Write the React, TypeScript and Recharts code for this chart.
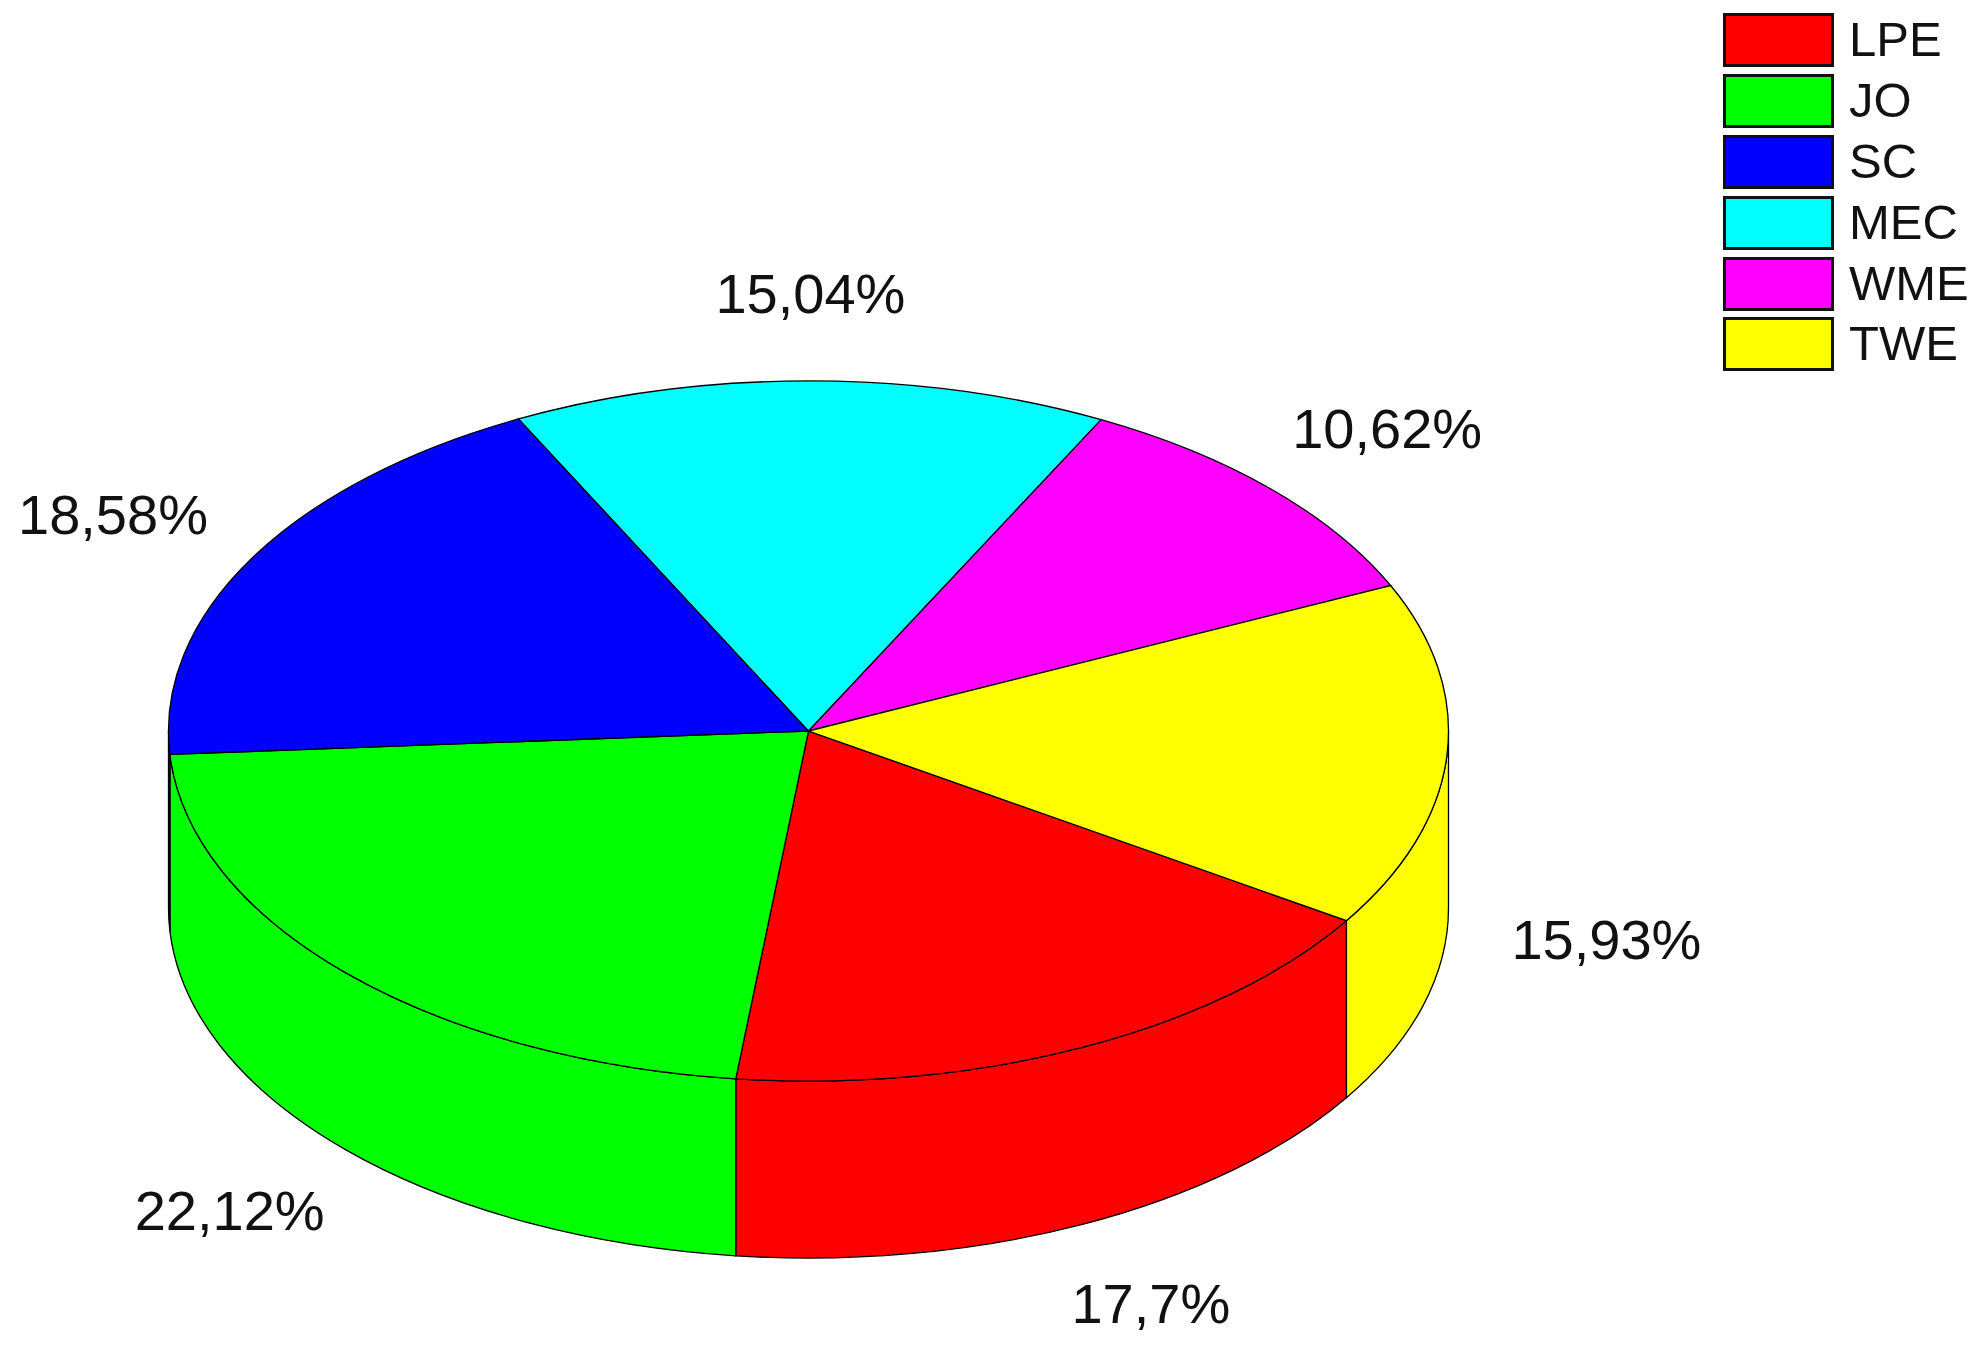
import React from "react";
import { PieChart, Pie, Cell, Legend } from "recharts";

const categories = ["LPE", "JO", "SC", "MEC", "WME", "TWE"];
const shares = [17.7, 22.12, 18.58, 15.04, 10.62, 15.93];
const shareLabels = ["17,7%", "22,12%", "18,58%", "15,04%", "10,62%", "15,93%"];
const colors = ["#ff0000", "#00ff00", "#0000ff", "#00ffff", "#ff00ff", "#ffff00"];

const tableData = categories.map((name, i) => ({ name, value: shares[i], text: shareLabels[i] }));

const SQUASH = 0.547;
const DEPTH = 177;
const LABEL_FACTOR_X = 1.25;
const LABEL_FACTOR_Y = 1.25;
const RAD = Math.PI / 180;
const FONT = '"Liberation Sans", Arial, sans-serif';

const pt = (cx: number, cy: number, rx: number, ry: number, a: number) =>
  [cx + rx * Math.cos(a * RAD), cy - ry * Math.sin(a * RAD)] as const;

function Slice3D(props: any) {
  const { cx, cy, outerRadius, startAngle, endAngle, fill } = props;
  const rx = outerRadius;
  const ry = outerRadius * SQUASH;
  const a0 = Math.max(startAngle, endAngle);
  const a1 = Math.min(startAngle, endAngle);
  const [sx, sy] = pt(cx, cy, rx, ry, a0);
  const [ex, ey] = pt(cx, cy, rx, ry, a1);
  const large = a0 - a1 > 180 ? 1 : 0;
  const top = `M${cx},${cy} L${sx},${sy} A${rx},${ry} 0 ${large} 1 ${ex},${ey} Z`;

  // The visible part of the side wall: angles in the lower half of the ellipse.
  let wall: string | null = null;
  const segs: [number, number][] = [];
  for (let k = -2; k <= 1; k++) {
    const lo = Math.max(a1, -180 + 360 * k);
    const hi = Math.min(a0, 0 + 360 * k);
    if (hi > lo) segs.push([hi, lo]);
  }
  if (segs.length) {
    wall = segs
      .map(([hi, lo]) => {
        const [ax, ay] = pt(cx, cy, rx, ry, hi);
        const [bx, by] = pt(cx, cy, rx, ry, lo);
        return `M${ax},${ay} A${rx},${ry} 0 0 1 ${bx},${by} L${bx},${by + DEPTH} A${rx},${ry} 0 0 0 ${ax},${ay + DEPTH} Z`;
      })
      .join(" ");
  }
  return (
    <g>
      {wall && <path d={wall} fill={fill} stroke="#000" strokeWidth={1.3} />}
      <path d={top} fill={fill} stroke="#000" strokeWidth={1.3} />
    </g>
  );
}

function SliceLabel(props: any) {
  const { cx, cy, outerRadius, midAngle, payload } = props;
  const rx = outerRadius * LABEL_FACTOR_X;
  const ry = outerRadius * SQUASH * LABEL_FACTOR_Y;
  const [x, y] = pt(cx, cy, rx, ry, midAngle);
  const low = Math.sin(midAngle * RAD) < 0;
  return (
    <text x={x} y={low ? y + DEPTH : y} textAnchor="middle" dominantBaseline="central" fontFamily={FONT} fontSize={56} fill="#111">
      {payload.text}
    </text>
  );
}

function LegendList(props: any) {
  const items = props.payload || [];
  return (
    <div style={{ position: "absolute", left: 1723, top: 10 }}>
      {items.map((it: any) => (
        <div key={it.value} style={{ display: "flex", alignItems: "center", height: 60.8 }}>
          <div style={{ width: 111, height: 54, boxSizing: "border-box", background: it.color, border: "3px solid #111" }} />
          <span style={{ marginLeft: 15, font: `49px ${FONT}`, color: "#111", position: "relative", top: -1 }}>{it.value}</span>
        </div>
      ))}
    </div>
  );
}

export default function App() {
  return (
    <div style={{ position: "absolute", left: 0, top: 0, width: 1983, height: 1349, background: "#fff", overflow: "hidden" }}>
      <PieChart width={1983} height={1349} margin={{ top: 0, right: 0, bottom: 0, left: 0 }}>
        <Pie
          data={tableData}
          dataKey="value"
          nameKey="name"
          cx={808.5}
          cy={731}
          outerRadius={640}
          innerRadius={0}
          startAngle={-32.8}
          endAngle={-392.8}
          paddingAngle={0}
          isAnimationActive={false}
          shape={Slice3D}
          label={SliceLabel}
          labelLine={false}
        >
          {categories.map((c, i) => (
            <Cell key={c} fill={colors[i]} />
          ))}
        </Pie>
        <Legend itemSorter={null} content={LegendList} wrapperStyle={{ position: "absolute", left: 0, top: 0, width: 0, height: 0 }} />
      </PieChart>
    </div>
  );
}
